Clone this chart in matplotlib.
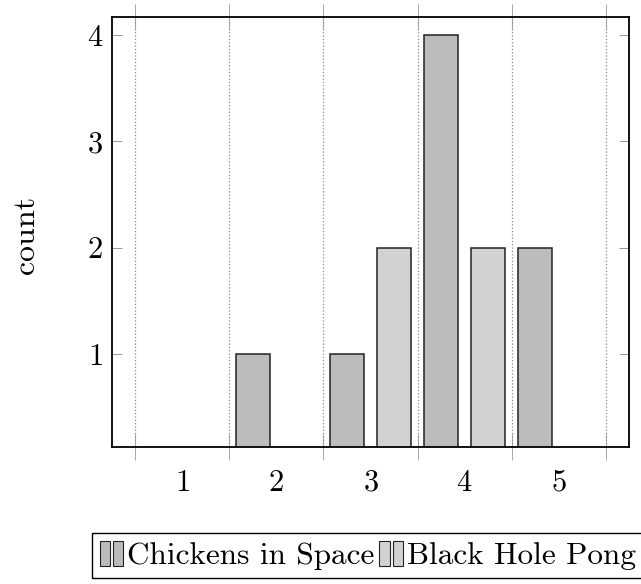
import numpy as np
import matplotlib
matplotlib.use("Agg")
from matplotlib import pyplot as plt
from matplotlib.patches import Patch
from matplotlib.legend_handler import HandlerTuple

plt.rcParams["font.family"] = ["cmr10", "DejaVu Serif"]
plt.rcParams["axes.formatter.use_mathtext"] = True

scores = [1, 2, 3, 4, 5]
chickens = [0, 1, 1, 4, 2]
black_hole = [0, 0, 2, 2, 0]
series_names = ["Chickens in Space", "Black Hole Pong"]
colors = ["#bcbcbc", "#d2d2d2"]

fig = plt.figure(figsize=(6.41, 5.84), dpi=100)
ax = fig.add_axes([112 / 641, 1 - 447 / 584, (629 - 112) / 641, (447 - 17) / 584])

x = np.array(scores)
width = 0.36
for offset, values, color in zip((-0.25, 0.25), (chickens, black_hole), colors):
    ax.bar(x + offset, values, width, color=color, edgecolor="#222222", linewidth=1.1)

ax.set_xlim(0.255, 5.745)
ax.set_ylim(0.125, 4.17)
ax.set_xticks(scores)
ax.set_xticks(np.arange(0.5, 6.0, 1.0), minor=True)
ax.set_yticks([1, 2, 3, 4])
ax.grid(True, which="minor", axis="x", color="#888888", linestyle=":", linewidth=0.9)
ax.tick_params(axis="x", which="major", length=0, pad=16, labelsize=22)
ax.tick_params(axis="x", which="minor", direction="inout", length=19, width=0.6,
               color="#999999", top=True, bottom=True)
ax.tick_params(axis="y", which="major", direction="in", length=7, width=0.6,
               color="#888888", left=True, right=True, labelsize=22, pad=6.5)
for spine in ax.spines.values():
    spine.set_linewidth(1.3)
    spine.set_zorder(5)
ax.set_ylabel("count", fontsize=23)
ax.yaxis.set_label_coords(-0.14, 0.493)

handles = [(Patch(facecolor=c, edgecolor="#222222", linewidth=0.8),
            Patch(facecolor=c, edgecolor="#222222", linewidth=0.8)) for c in colors]
fig.legend(handles, series_names, loc="upper left",
           bbox_to_anchor=(92 / 641, 1 - 533 / 584), bbox_transform=fig.transFigure,
           ncol=2, fontsize=22.5, fancybox=False, edgecolor="black", framealpha=1,
           handler_map={tuple: HandlerTuple(ndivide=None, pad=0.1)},
           handlelength=0.75, handleheight=0.85, handletextpad=0.13, columnspacing=0.15,
           borderpad=0.25, borderaxespad=0)

fig.savefig("out.png", dpi=100)
